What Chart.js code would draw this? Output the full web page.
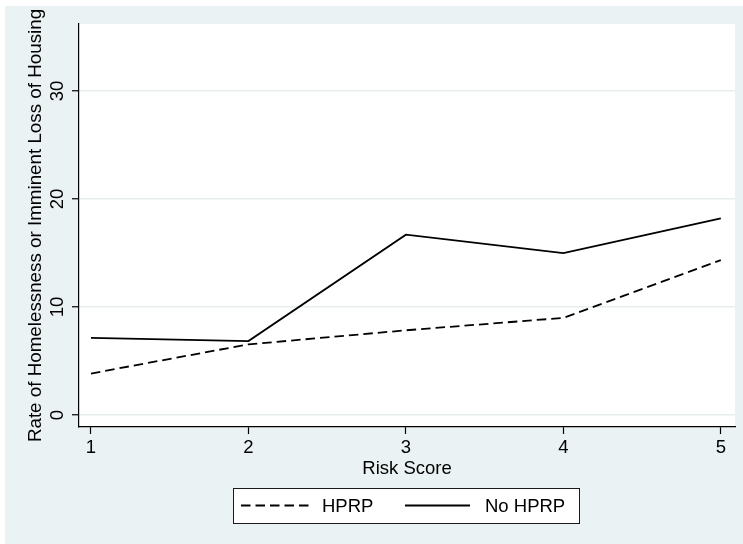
<!DOCTYPE html>
<html>
<head>
<meta charset="utf-8">
<script src="https://cdn.jsdelivr.net/npm/chart.js@4/dist/chart.umd.min.js"></script>
<style>
  html, body { margin: 0; padding: 0; background: #ffffff; }
  canvas { display: block; }
</style>
</head>
<body>
<canvas id="chart" width="743" height="544"></canvas>
<script>
'use strict';

// risk score categories and rates (%)
const riskScores = [1, 2, 3, 4, 5];
const hprpRates = [3.85, 6.55, 7.85, 9.0, 14.35];
const noHprpRates = [7.15, 6.85, 16.7, 15.0, 18.2];
const yTicks = [0, 10, 20, 30];

const FONT = 'Liberation Sans, Arial, Helvetica, sans-serif';
const BG = '#eaf2f3';

// grey page behind the plot, white plot region
const backdrop = {
  id: 'backdrop',
  beforeDraw(chart) {
    const { ctx, chartArea: a } = chart;
    ctx.save();
    ctx.fillStyle = BG;
    ctx.fillRect(5, 6, chart.width - 5, chart.height - 6);
    ctx.fillStyle = '#ffffff';
    ctx.fillRect(a.left, a.top, a.right - a.left, a.bottom - a.top);
    ctx.restore();
  }
};

// boxed legend under the axis title
const boxLegend = {
  id: 'boxLegend',
  afterDraw(chart) {
    const ctx = chart.ctx;
    const x = 233, y = 488, w = 346, h = 35;
    const mid = y + h / 2;
    ctx.save();
    ctx.fillStyle = '#ffffff';
    ctx.fillRect(x, y, w, h);
    ctx.strokeStyle = '#1a1a1a';
    ctx.lineWidth = 1;
    ctx.strokeRect(x + 0.5, y + 0.5, w, h);

    const items = [
      { ds: chart.data.datasets[0], x0: 241, x1: 312, tx: 322 },
      { ds: chart.data.datasets[1], x0: 405, x1: 470, tx: 485 }
    ];
    items.forEach(it => {
      ctx.beginPath();
      ctx.setLineDash(it.ds.borderDash || []);
      ctx.lineWidth = it.ds.borderWidth;
      ctx.strokeStyle = it.ds.borderColor;
      ctx.moveTo(it.x0, mid);
      ctx.lineTo(it.x1, mid);
      ctx.stroke();
      ctx.setLineDash([]);
      ctx.fillStyle = '#000000';
      ctx.font = '18.5px ' + FONT;
      ctx.textBaseline = 'middle';
      ctx.fillText(it.ds.label, it.tx, mid + 1);
    });
    ctx.restore();
  }
};

new Chart(document.getElementById('chart'), {
  type: 'line',
  data: {
    datasets: [
      {
        label: 'HPRP',
        data: riskScores.map((s, i) => ({ x: s, y: hprpRates[i] })),
        borderColor: '#000000',
        borderWidth: 1.8,
        borderDash: [9.5, 5],
        pointRadius: 0,
        tension: 0,
        fill: false
      },
      {
        label: 'No HPRP',
        data: riskScores.map((s, i) => ({ x: s, y: noHprpRates[i] })),
        borderColor: '#000000',
        borderWidth: 1.8,
        pointRadius: 0,
        tension: 0,
        fill: false
      }
    ]
  },
  options: {
    responsive: false,
    animation: false,
    layout: { padding: { left: 5, top: 24, right: 8, bottom: 0 } },
    plugins: { legend: { display: false }, tooltip: { enabled: false } },
    scales: {
      x: {
        type: 'linear',
        min: 0.924,
        max: 5.09,
        afterBuildTicks: s => { s.ticks = riskScores.map(v => ({ value: v })); },
        afterFit: s => { s.height = 117; },
        border: { color: '#000000', width: 1.2 },
        grid: { drawOnChartArea: false, drawTicks: true, tickLength: 7, tickColor: '#000000', tickWidth: 1.2 },
        ticks: { color: '#000000', font: { family: FONT, size: 18.5 }, padding: 3, maxRotation: 0 },
        title: {
          display: true,
          text: 'Risk Score',
          color: '#000000',
          font: { family: FONT, size: 18.5 },
          padding: { top: 0, bottom: 64 }
        }
      },
      y: {
        type: 'linear',
        min: -1.1,
        max: 36.2,
        afterBuildTicks: s => { s.ticks = yTicks.map(v => ({ value: v })); },
        afterFit: s => { s.width = 74; },
        border: { color: '#000000', width: 1.2 },
        grid: { color: '#e6eef0', lineWidth: 1.5, tickLength: 7, tickColor: '#000000', tickWidth: 1.2 },
        ticks: {
          color: '#000000',
          font: { family: FONT, size: 18.5 },
          minRotation: 90,
          maxRotation: 90,
          crossAlign: 'center',
          padding: 4
        },
        title: {
          display: true,
          text: 'Rate of Homelessness or Imminent Loss of Housing',
          color: '#000000',
          font: { family: FONT, size: 18.8 },
          padding: { top: 20, bottom: 0 }
        }
      }
    }
  },
  plugins: [backdrop, boxLegend]
});
</script>
</body>
</html>
